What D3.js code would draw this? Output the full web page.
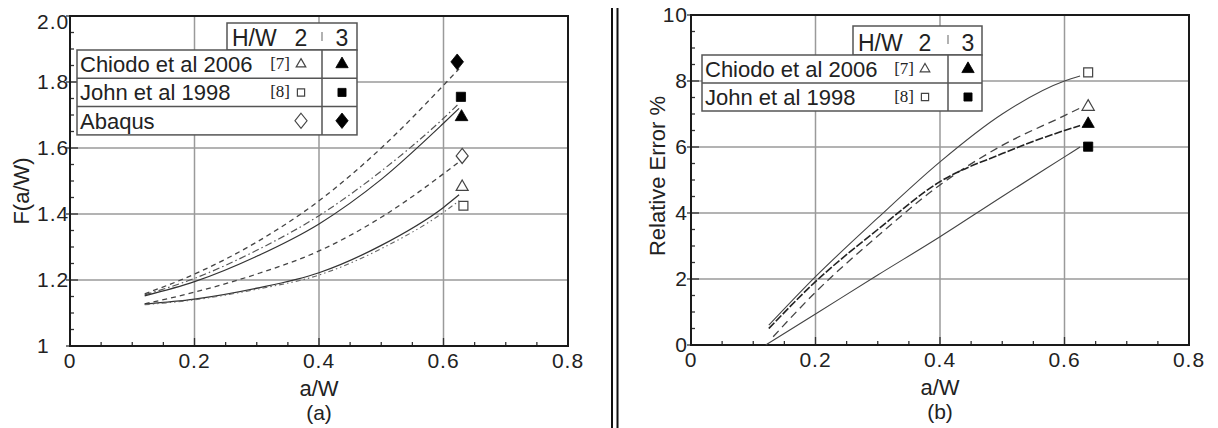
<!DOCTYPE html>
<html>
<head>
<meta charset="utf-8">
<script src="https://cdn.jsdelivr.net/npm/d3@7"></script>
<style>
  body { margin: 0; background: #fff; }
  svg { display: block; font-family: "Liberation Sans", Arial, sans-serif; }
</style>
</head>
<body>
<svg id="chart" width="1218" height="428"></svg>
<script>
// Tick values and labels
const xMajor = [0, 0.2, 0.4, 0.6, 0.8];
const xLabels = ["0", "0.2", "0.4", "0.6", "0.8"];
const fMajor = [1, 1.2, 1.4, 1.6, 1.8, 2.0];
const fLabels = ["1", "1.2", "1.4", "1.6", "1.8", "2.0"];
const errMajor = [0, 2, 4, 6, 8, 10];
const errLabels = ["0", "2", "4", "6", "8", "10"];

// Legend texts
const legendRows = ["Chiodo et al 2006", "John et al 1998", "Abaqus"];
const legendRefs = ["[7]", "[8]", ""];
const hwValues = ["2", "3"];

// (a) F(a/W) against a/W
const aW = [0.12, 0.2, 0.3, 0.4, 0.5, 0.6, 0.625];
const fAbaqus3 = [1.158, 1.218, 1.315, 1.44, 1.60, 1.79, 1.84];
const fJohn3   = [1.155, 1.205, 1.29, 1.395, 1.53, 1.69, 1.735];
const fChiodo3 = [1.152, 1.195, 1.272, 1.37, 1.505, 1.675, 1.72];
const fAbaqus2 = [1.128, 1.163, 1.218, 1.288, 1.39, 1.522, 1.558];
const fChiodo2 = [1.127, 1.142, 1.175, 1.222, 1.305, 1.42, 1.458];
const fJohn2   = [1.125, 1.14, 1.172, 1.215, 1.295, 1.405, 1.44];
// end markers of (a): Abaqus3, John3, Chiodo3, Abaqus2, Chiodo2, John2
const fMarkX = [0.622, 0.628, 0.629, 0.630, 0.630, 0.632];
const fMarkY = [1.861, 1.755, 1.694, 1.576, 1.482, 1.425];

// (b) relative error % against a/W
const errXJohn2   = [0.125, 0.2, 0.3, 0.4, 0.5, 0.6, 0.625];
const errJohn2    = [0.6, 2.07, 3.85, 5.55, 7.0, 8.0, 8.15];
const errXChiodo3 = [0.125, 0.2, 0.3, 0.4, 0.5, 0.6, 0.625];
const errChiodo3  = [0.5, 1.92, 3.5, 4.95, 5.8, 6.5, 6.65];
const errXChiodo2 = [0.132, 0.2, 0.3, 0.4, 0.5, 0.6, 0.625];
const errChiodo2  = [0.25, 1.6, 3.3, 4.85, 6.05, 6.95, 7.18];
const errXJohn3   = [0.12, 0.2, 0.3, 0.4, 0.5, 0.6, 0.625];
const errJohn3    = [0.0, 0.94, 2.12, 3.28, 4.5, 5.7, 6.0];
// end markers of (b): John2, Chiodo2, Chiodo3, John3
const errMarkX = [0.638, 0.638, 0.638, 0.638];
const errMarkY = [8.26, 7.22, 6.70, 6.01];

const svg = d3.select("#chart");

// Taller-than-wide diamond like the original markers
const diamondTall = {
  draw(ctx, size) {
    const h = Math.sqrt(size / 1.6), w = h * 0.8;
    ctx.moveTo(0, -h); ctx.lineTo(w, 0); ctx.lineTo(0, h); ctx.lineTo(-w, 0); ctx.closePath();
  }
};
const symbolType = k => k === "tri" ? d3.symbolTriangle : k === "square" ? d3.symbolSquare : diamondTall;

const drawMarker = (g, kind, filled, cx, cy, size) => {
  g.append("path")
    .attr("d", d3.symbol().type(symbolType(kind)).size(size)())
    .attr("transform", `translate(${cx},${cy})`)
    .attr("fill", filled ? "#000" : "#fff")
    .attr("stroke", filled ? "#000" : "#444")
    .attr("stroke-width", filled ? 0.8 : 1.2);
};

// Frame, grid, ticks and tick labels of one panel
const drawPanel = (cfg) => {
  const x = d3.scaleLinear().domain([0, 0.8]).range(cfg.xRange);
  const y = d3.scaleLinear().domain(cfg.yDomain).range(cfg.yRange);
  const g = svg.append("g");
  const [x0, x1] = cfg.xRange, [y0, y1] = cfg.yRange;

  // grid
  g.selectAll(".vg").data(xMajor.slice(1, -1)).enter().append("line")
    .attr("x1", d => x(d)).attr("x2", d => x(d)).attr("y1", y0).attr("y2", y1)
    .attr("stroke", "#9a9a9a").attr("stroke-width", 1.5);
  g.selectAll(".hg").data(cfg.yMajor.slice(1, -1)).enter().append("line")
    .attr("x1", x0).attr("x2", x1).attr("y1", d => y(d)).attr("y2", d => y(d))
    .attr("stroke", "#9a9a9a").attr("stroke-width", 1.5);

  // minor and major ticks (inward)
  const xMinor = d3.range(0.05, 0.8, 0.05).filter(v => Math.abs(v / 0.2 - Math.round(v / 0.2)) > 0.01);
  const yMinor = d3.range(cfg.yDomain[0] + cfg.yMinorStep, cfg.yDomain[1], cfg.yMinorStep)
    .filter(v => Math.abs(v / cfg.yMajorStep - Math.round(v / cfg.yMajorStep)) > 0.01);
  const tickStyle = sel => sel.attr("stroke", "#333").attr("stroke-width", 1.3);
  g.selectAll(".xm").data(xMinor).enter().append("line")
    .attr("x1", d => x(d)).attr("x2", d => x(d)).attr("y1", y0).attr("y2", y0 - 4).call(tickStyle);
  g.selectAll(".xM").data(xMajor).enter().append("line")
    .attr("x1", d => x(d)).attr("x2", d => x(d)).attr("y1", y0).attr("y2", y0 - 8).call(tickStyle);
  g.selectAll(".ym").data(yMinor).enter().append("line")
    .attr("x1", x0).attr("x2", x0 + 4).attr("y1", d => y(d)).attr("y2", d => y(d)).call(tickStyle);
  g.selectAll(".yM").data(cfg.yMajor).enter().append("line")
    .attr("x1", x0 - 4).attr("x2", x0 + 8).attr("y1", d => y(d)).attr("y2", d => y(d)).call(tickStyle);

  // frame
  g.append("rect")
    .attr("x", x0).attr("y", y1).attr("width", x1 - x0).attr("height", y0 - y1)
    .attr("fill", "none").attr("stroke", "#1a1a1a").attr("stroke-width", 2);

  // tick labels
  g.selectAll(".xl").data(xMajor).enter().append("text")
    .attr("x", d => x(d)).attr("y", y0 + 22)
    .attr("text-anchor", "middle").attr("font-size", 21).attr("letter-spacing", 1)
    .attr("fill", "#222").text((d, i) => xLabels[i]);
  g.selectAll(".yl").data(cfg.yMajor).enter().append("text")
    .attr("x", cfg.yLabelX).attr("y", d => Math.max(y(d), cfg.minLabelY))
    .attr("dy", "0.35em").attr("text-anchor", cfg.yLabelAnchor)
    .attr("font-size", 21).attr("letter-spacing", 1)
    .attr("fill", "#222").text((d, i) => cfg.yLabels[i]);

  // axis titles
  g.append("text").attr("x", cfg.titleX).attr("y", y0 + 50).attr("text-anchor", "middle")
    .attr("font-size", 22).attr("fill", "#222").text("a/W");
  g.append("text").attr("x", cfg.titleX).attr("y", y0 + 74).attr("text-anchor", "middle")
    .attr("font-size", 21).attr("fill", "#222").text(cfg.caption);
  g.append("text")
    .attr("transform", `translate(${cfg.yTitlePos[0]},${cfg.yTitlePos[1]}) rotate(-90)`)
    .attr("text-anchor", "middle").attr("dy", "0.35em")
    .attr("font-size", 22).attr("fill", "#222").text(cfg.yTitle);

  return { x, y, g };
};

const drawCurves = (panel, series) => {
  series.forEach(s => {
    const pts = s.xs.map((v, i) => [v, s.ys[i]]);
    panel.g.append("path")
      .attr("d", d3.line().x(d => panel.x(d[0])).y(d => panel.y(d[1])).curve(d3.curveMonotoneX)(pts))
      .attr("fill", "none").attr("stroke", s.color).attr("stroke-width", s.width)
      .attr("stroke-dasharray", s.dash);
  });
  series.forEach(s => {
    drawMarker(panel.g, s.kind, s.hw === 3, panel.x(s.mx), panel.y(s.my), s.size);
  });
};

// Legend box with H/W header
const drawLegend = (lg) => {
  const g = svg.append("g");
  const border = sel => sel.attr("stroke", "#555").attr("stroke-width", 1.5);
  g.append("rect").attr("x", lg.hx).attr("y", lg.hy).attr("width", lg.right - lg.hx)
    .attr("height", lg.top - lg.hy).attr("fill", "#fff").call(border);
  g.append("rect").attr("x", lg.left).attr("y", lg.top).attr("width", lg.right - lg.left)
    .attr("height", lg.rowH * lg.rows).attr("fill", "#fff").call(border);
  d3.range(1, lg.rows).forEach(i => {
    g.append("line").attr("x1", lg.left).attr("x2", lg.right)
      .attr("y1", lg.top + i * lg.rowH).attr("y2", lg.top + i * lg.rowH).call(border);
  });
  g.append("line").attr("x1", lg.colX).attr("x2", lg.colX)
    .attr("y1", lg.top).attr("y2", lg.top + lg.rowH * lg.rows).call(border);
  g.append("line").attr("x1", lg.colX).attr("x2", lg.colX)
    .attr("y1", lg.hy + 9).attr("y2", lg.hy + 18).attr("stroke", "#888").attr("stroke-width", 1.3);

  const hb = lg.top - 4;
  g.append("text").attr("x", lg.hx + 5).attr("y", hb).attr("font-size", 23).attr("fill", "#222").text("H/W");
  g.append("text").attr("x", lg.c1).attr("y", hb).attr("text-anchor", "middle")
    .attr("font-size", 23).attr("fill", "#222").text(hwValues[0]);
  g.append("text").attr("x", lg.c2).attr("y", hb).attr("text-anchor", "middle")
    .attr("font-size", 23).attr("fill", "#222").text(hwValues[1]);

  const kinds = ["tri", "square", "diamond"];
  const openSize = [40, 52, 90], fillSize = [66, 66, 95];
  d3.range(lg.rows).forEach(i => {
    const cy = lg.top + (i + 0.5) * lg.rowH;
    g.append("text").attr("x", lg.left + 3).attr("y", cy + 8)
      .attr("font-size", 22).attr("fill", "#222").text(legendRows[i]);
    if (legendRefs[i]) {
      g.append("text").attr("x", lg.c1 - 11).attr("y", cy + 5).attr("text-anchor", "end")
        .attr("font-family", "'Liberation Serif', 'Times New Roman', serif")
        .attr("font-size", 17).attr("fill", "#222").text(legendRefs[i]);
    }
    drawMarker(g, kinds[i], false, lg.c1, cy, openSize[i]);
    drawMarker(g, kinds[i], true, lg.c2, cy, fillSize[i]);
  });
};

// Panel (a)
const pa = drawPanel({
  xRange: [70, 568], yDomain: [1, 2], yRange: [346, 16],
  yMajor: fMajor, yLabels: fLabels, yMajorStep: 0.2, yMinorStep: 0.05,
  yLabelX: 37, yLabelAnchor: "start", minLabelY: 22,
  titleX: 319, caption: "(a)", yTitle: "F(a/W)", yTitlePos: [21, 191]
});
drawCurves(pa, [
  { xs: aW, ys: fAbaqus3, hw: 3, kind: "diamond", mx: fMarkX[0], my: fMarkY[0], size: 100, color: "#444", width: 1.3, dash: "5,4" },
  { xs: aW, ys: fJohn3,   hw: 3, kind: "square",  mx: fMarkX[1], my: fMarkY[1], size: 85,  color: "#555", width: 1.2, dash: "7,3,1.5,3" },
  { xs: aW, ys: fChiodo3, hw: 3, kind: "tri",     mx: fMarkX[2], my: fMarkY[2], size: 70,  color: "#333", width: 1.2, dash: null },
  { xs: aW, ys: fAbaqus2, hw: 2, kind: "diamond", mx: fMarkX[3], my: fMarkY[3], size: 90,  color: "#444", width: 1.3, dash: "5,4" },
  { xs: aW, ys: fChiodo2, hw: 2, kind: "tri",     mx: fMarkX[4], my: fMarkY[4], size: 62,  color: "#333", width: 1.3, dash: null },
  { xs: aW, ys: fJohn2,   hw: 2, kind: "square",  mx: fMarkX[5], my: fMarkY[5], size: 80,  color: "#666", width: 1.1, dash: "5,3,1.5,3,1.5,3" }
]);
drawLegend({ hx: 227, hy: 23, left: 77, right: 357, top: 50, rowH: 28.3, rows: 3, colX: 322, c1: 301, c2: 342 });

// Panel (b)
const pb = drawPanel({
  xRange: [691, 1189], yDomain: [0, 10], yRange: [345, 15],
  yMajor: errMajor, yLabels: errLabels, yMajorStep: 2, yMinorStep: 0.5,
  yLabelX: 688, yLabelAnchor: "end", minLabelY: 0,
  titleX: 940, caption: "(b)", yTitle: "Relative Error %", yTitlePos: [657, 176]
});
drawCurves(pb, [
  { xs: errXJohn2,   ys: errJohn2,   hw: 2, kind: "square", mx: errMarkX[0], my: errMarkY[0], size: 80, color: "#444", width: 1.1, dash: null },
  { xs: errXChiodo2, ys: errChiodo2, hw: 2, kind: "tri",    mx: errMarkX[1], my: errMarkY[1], size: 65, color: "#444", width: 1.3, dash: "8,5" },
  { xs: errXChiodo3, ys: errChiodo3, hw: 3, kind: "tri",    mx: errMarkX[2], my: errMarkY[2], size: 65, color: "#222", width: 1.6, dash: "8,2" },
  { xs: errXJohn3,   ys: errJohn3,   hw: 3, kind: "square", mx: errMarkX[3], my: errMarkY[3], size: 85, color: "#444", width: 1.1, dash: null }
]);
drawLegend({ hx: 853, hy: 26, left: 702, right: 982, top: 55, rowH: 28, rows: 2, colX: 948, c1: 925, c2: 968 });

// Double separator between the panels
[612, 617.5].forEach(xp => {
  svg.append("line").attr("x1", xp).attr("x2", xp).attr("y1", 8).attr("y2", 428)
    .attr("stroke", "#111").attr("stroke-width", 2);
});
</script>
</body>
</html>
